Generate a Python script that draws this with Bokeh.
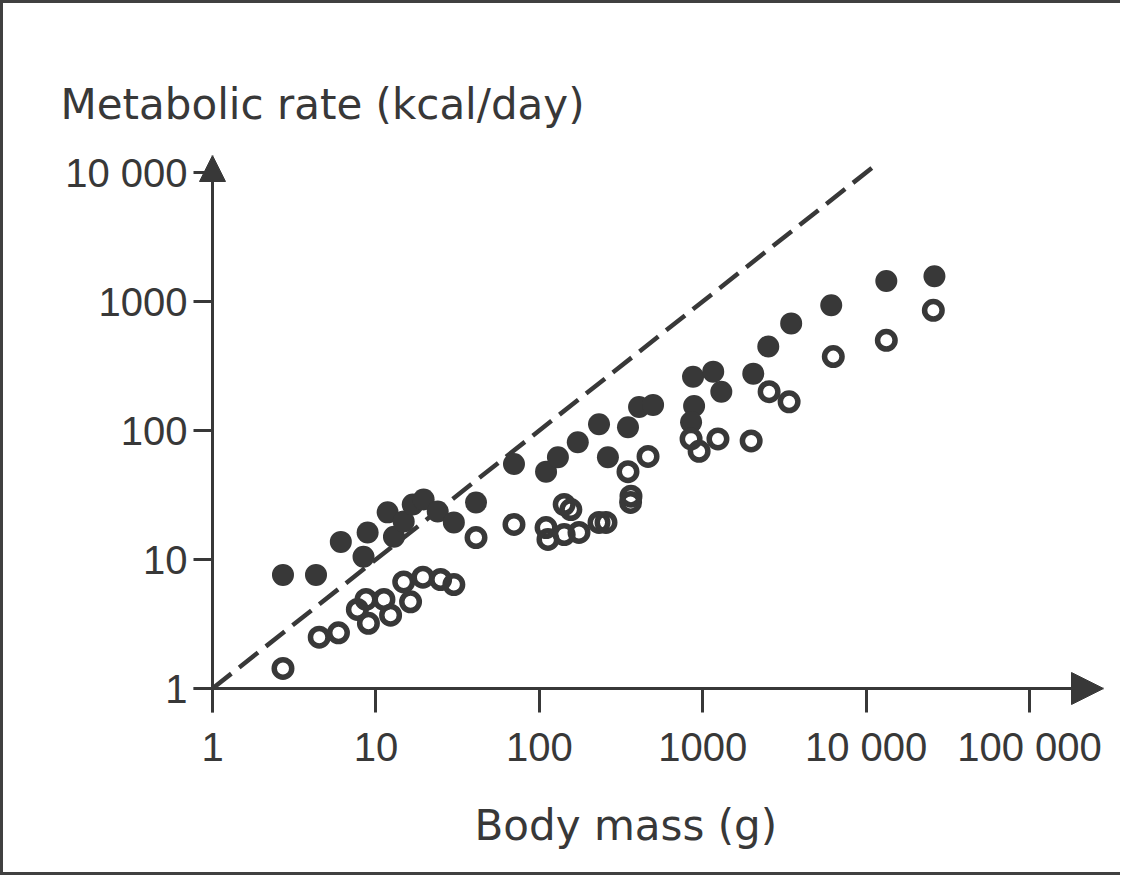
from bokeh.plotting import figure
from bokeh.models import Range1d, FixedTicker, Arrow, NormalHead, Title
from bokeh.embed import file_html
from bokeh.resources import INLINE

# ---- data (log-log scan) ----
filled_mass = [2.7, 4.3, 6.1, 8.9, 8.4, 11.8, 12.9, 14.8, 16.8, 19.6, 23.9, 30.0, 41,
               70, 110, 130, 172, 232, 263, 349, 408, 497,
               873, 1160, 1300, 886, 849, 2040, 2520, 3480, 6120, 13300, 26200]
filled_rate = [7.6, 7.6, 13.7, 16.2, 10.5, 23.2, 15.0, 19.7, 26.7, 29.2, 23.6, 19.4, 27.7,
               55, 48, 62, 81, 112, 62, 106, 152, 158,
               261, 286, 200, 155, 116, 276, 448, 677, 935, 1440, 1570]

open_mass = [2.7, 4.5, 5.9, 7.7, 8.7, 11.2, 9.0, 12.3, 16.3, 14.8, 19.4, 24.9, 30.0, 41,
             70, 110, 113, 142, 156, 142, 175, 232, 256, 349, 463, 364, 362,
             849, 951, 1240, 1980, 2550, 3380, 6300, 13300, 25800]
open_rate = [1.43, 2.5, 2.7, 4.1, 4.9, 4.9, 3.2, 3.7, 4.7, 6.7, 7.3, 7.0, 6.4, 14.8,
             18.7, 17.7, 14.3, 26.7, 24.4, 15.6, 16.2, 19.4, 19.4, 48, 63, 31, 27.7,
             86, 69, 86, 83, 200, 167, 374, 500, 855]

line_mass = [1, 12000]
line_rate = [1, 12000]

x_ticks = [1, 10, 100, 1000, 10000, 100000]
x_tick_labels = ["1", "10", "100", "1000", "10 000", "100 000"]
y_ticks = [1, 10, 100, 1000, 10000]
y_tick_labels = ["1", "10", "100", "1000", "10 000"]

x_title = "Body mass (g)"
y_title = "Metabolic rate (kcal/day)"

INK = "#383838"
X_START, X_END = 10 ** -0.1163, 10 ** 5.453
Y_START, Y_END = 10 ** -0.186, 10 ** 4.132

p = figure(width=1120, height=875, x_axis_type="log", y_axis_type="log",
           x_range=Range1d(X_START, X_END), y_range=Range1d(Y_START, Y_END),
           output_backend="svg", toolbar_location=None,
           min_border_left=190, min_border_right=20,
           min_border_top=152, min_border_bottom=166)
p.grid.visible = False
p.outline_line_color = None
p.background_fill_color = "white"
p.border_fill_color = "white"
p.styles = {"border-top": "3px solid #404040", "border-left": "3px solid #404040",
            "border-bottom": "3px solid #404040"}

# frame-edge axes carry the ticks (pointing in to the axis lines) and the labels
for ax, ticks, labels, tick_len in ((p.xaxis[0], x_ticks, x_tick_labels, 24),
                                    (p.yaxis[0], y_ticks, y_tick_labels, 19)):
    ax.ticker = FixedTicker(ticks=ticks)
    ax.major_label_overrides = dict(zip(ticks, labels))
    ax.minor_tick_line_color = None
    ax.axis_line_color = None
    ax.major_tick_out = 0
    ax.major_tick_in = tick_len
    ax.major_tick_line_width = 3
    ax.major_tick_line_color = INK
    ax.major_label_text_font = "Liberation Sans"
    ax.major_label_text_font_size = "40px"
    ax.major_label_text_color = INK
p.xaxis.major_label_standoff = 12
p.yaxis.major_label_standoff = 6

# dashed reference line
p.line(line_mass, line_rate, line_dash="24 10", line_width=4.5, line_color=INK)

# points
p.scatter(filled_mass, filled_rate, size=22, fill_color=INK, line_color=None)
p.scatter(open_mass, open_rate, size=17.5, fill_color=None, line_color=INK, line_width=5.5)

# axis lines with arrow heads, crossing at (1, 1)
p.add_layout(Arrow(end=NormalHead(size=32, fill_color=INK, line_color=INK),
                   x_start=X_START, y_start=1, x_end=X_END, y_end=1,
                   line_color=INK, line_width=3))
p.add_layout(Arrow(end=NormalHead(size=26, fill_color=INK, line_color=INK),
                   x_start=1, y_start=Y_START, x_end=1, y_end=Y_END,
                   line_color=INK, line_width=3))

# axis titles
p.add_layout(Title(text=y_title, align="left", offset=-133, standoff=53,
                   text_font="DejaVu Sans", text_font_size="42px",
                   text_font_style="normal", text_color=INK), "above")
p.add_layout(Title(text=x_title, align="left", offset=281, standoff=55,
                   text_font="DejaVu Sans", text_font_size="42px",
                   text_font_style="normal", text_color=INK), "below")

open("out.html", "w").write(file_html(p, INLINE))
